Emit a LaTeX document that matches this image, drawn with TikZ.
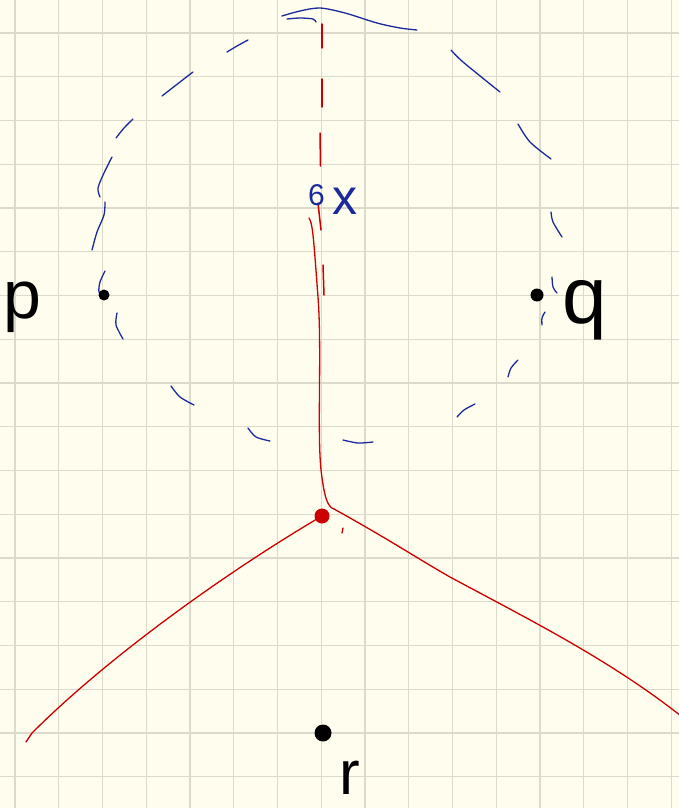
\documentclass[tikz,border=0pt]{standalone}
\usepackage{fontspec}
\setmainfont{Liberation Sans}
\definecolor{paper}{HTML}{FFFDEE}
\definecolor{gridc}{HTML}{DCDACA}
\definecolor{inkblue}{HTML}{1A2A9C}
\definecolor{inkred}{HTML}{CC0000}
\begin{document}
\begin{tikzpicture}[x=1pt,y=-1pt,
  gridline/.style={draw=gridc,line width=1.4pt},
  bluedash/.style={draw=inkblue,line width=1.3pt,line cap=round,line join=round},
  reddash/.style={draw=inkred,line width=1.5pt,line cap=round},
  redline/.style={draw=inkred,line width=1.3pt,line cap=round,line join=round},
  site/.style={circle,fill=black,inner sep=0pt,minimum size=#1},
  handlab/.style={inner sep=0pt,font=\fontsize{#1}{#1}\selectfont}
]
\fill[paper] (0,0) rectangle (679,808);
\useasboundingbox (0,0) rectangle (679,808);
% grid
\foreach \i in {0,...,15} \draw[gridline] ({15+43.75*\i},0) -- ({15+43.75*\i},808);
\foreach \j in {0,...,17} \draw[gridline] (0,{33+43.75*\j}) -- (679,{33+43.75*\j});

% dashed blue circle (hand drawn)
\draw[bluedash] plot[smooth] coordinates {(282,16) (300,11) (320,8) (345,13) (377,23) (400,28) (417,30)};
\draw[bluedash] plot[smooth] coordinates {(287,19) (300,18) (313,19) (316,22)};
\draw[bluedash] plot[smooth] coordinates {(227,52) (237,46) (248,40)};
\draw[bluedash] plot[smooth] coordinates {(162,96) (180,82) (193,72)};
\draw[bluedash] plot[smooth] coordinates {(116,138) (124,128) (133,119)};
\draw[bluedash] plot[smooth] coordinates {(112,157) (104,173) (98,188) (100,197)};
\draw[bluedash] plot[smooth] coordinates {(105,202) (104,215) (97,232) (92,250)};
\draw[bluedash] plot[smooth] coordinates {(105,271) (100,282) (99,292) (104,296)};
\draw[bluedash] plot[smooth] coordinates {(117,313) (116,325) (123,339)};
\draw[bluedash] plot[smooth] coordinates {(171,386) (180,397) (194,405)};
\draw[bluedash] plot[smooth] coordinates {(248,428) (256,437) (270,441)};
\draw[bluedash] plot[smooth] coordinates {(343,440) (358,443) (373,442)};
\draw[bluedash] plot[smooth] coordinates {(457,417) (464,410) (475,404)};
\draw[bluedash] plot[smooth] coordinates {(508,377) (511,368) (518,360)};
\draw[bluedash] plot[smooth] coordinates {(542,325) (542,318) (545,312)};
\draw[bluedash] plot[smooth] coordinates {(552,277) (553,287) (557,293)};
\draw[bluedash] plot[smooth] coordinates {(551,212) (553,222) (562,237)};
\draw[bluedash] plot[smooth] coordinates {(518,124) (530,142) (551,159)};
\draw[bluedash] plot[smooth] coordinates {(451,50) (463,62) (500,92)};

% red dashed vertical
\draw[reddash] (322,24) -- (322,48);
\draw[reddash] (322,79) -- (322,107);
\draw[reddash] (320,133) -- (320.5,166);
\draw[reddash] (318,203) -- (321,230);
\draw[reddash] (323,265) -- (324,295);

% sites
\node[site=11pt] (p) at (104,295) {};
\node[site=13pt] (q) at (537,295) {};
\node[site=17pt] (r) at (323,733) {};
\node[site=15pt,fill=inkred] (v) at (322,516) {};

% red solid edges
\coordinate (xtop) at (309,218);
\coordinate (hook) at (334,509);
\coordinate (rend) at (681,716);
\coordinate (lend) at (26,742);
\coordinate (tickA) at (343,528);
\coordinate (tickB) at (342,533);
\draw[redline] (xtop) .. controls (313,223) and (314,245) .. (318,297)
  .. controls (322,350) and (317,430) .. (321,470)
  .. controls (324,495) and (327,507) .. (hook);
\draw[redline] (hook) .. controls (390,540) and (420,560) .. (450,577)
  .. controls (530,620) and (610,660) .. (rend);
\draw[redline] (v.center) .. controls (230,570) and (110,655) .. (32,733) -- (lend);
\draw[redline] (tickA) -- (tickB);

% labels
\node[handlab=68,anchor=base west] (plab) at (3,318) {p};
\node[handlab=80,anchor=base west] (qlab) at (562,323) {q};
\node[handlab=62,anchor=base west] (rlab) at (339,794) {r};
\node[handlab=30,anchor=base west,text=inkblue] (six) at (308,205) {6};
\node[handlab=50,anchor=base west,text=inkblue] (xlab) at (332,214) {x};
\end{tikzpicture}
\end{document}
